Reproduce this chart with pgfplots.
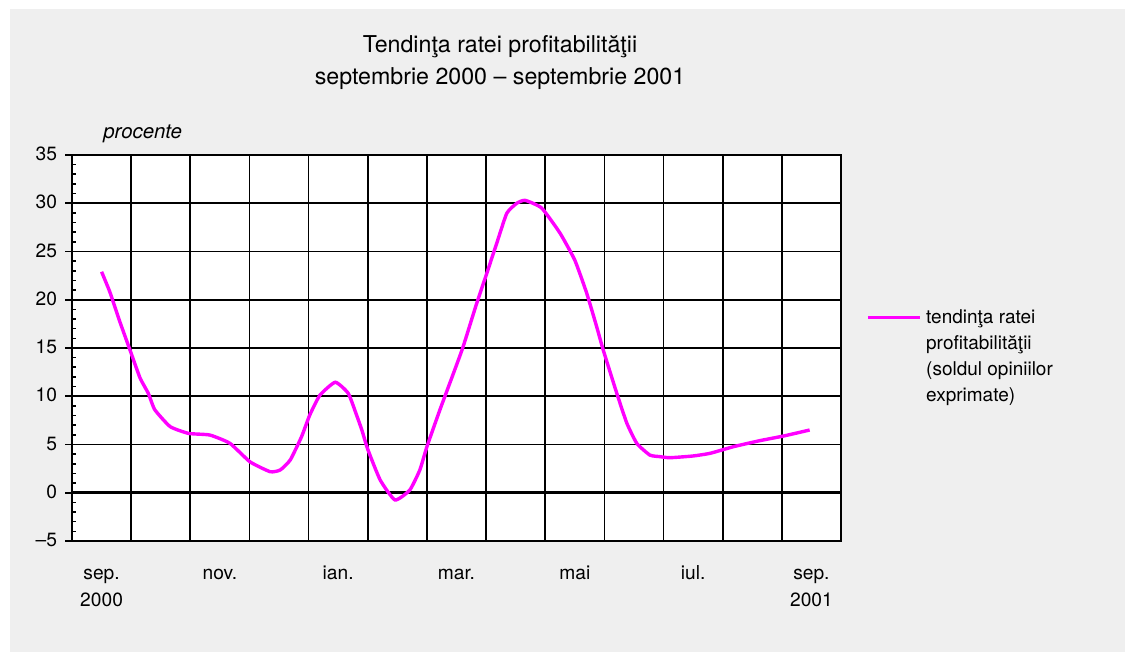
\documentclass[border=0pt]{standalone}
\usepackage{pgfplots}
\pgfplotsset{compat=1.18}
\usepackage{fontspec}
\setmainfont{TeX Gyre Heros}
\definecolor{panel}{RGB}{239,239,239}
\definecolor{trend}{RGB}{255,0,255}

\begin{document}
\begin{tikzpicture}
% background: white margin on the left and top, grey panel
\fill[white] (0pt,0pt) rectangle (562.5pt,326pt);
\fill[panel] (5pt,0pt) rectangle (562.5pt,321.5pt);
\node[anchor=base, font=\fontsize{11.6}{16}\selectfont] at (250pt,299.5pt) {Tendinţa ratei profitabilităţii};
\node[anchor=base, font=\fontsize{11.6}{16}\selectfont] at (250pt,283.5pt) {septembrie 2000 -- septembrie 2001};
\node[anchor=base west, inner sep=0pt, font=\fontsize{10.2}{12}\selectfont\itshape] at (51.5pt,256.5pt) {procente};

\begin{axis}[
    at={(36pt,55.5pt)}, anchor=south west,
    scale only axis, width=384.5pt, height=193pt,
    axis background/.style={fill=white},
    xmin=-0.5, xmax=12.5, ymin=-5, ymax=35,
    xtick={0,2,...,12},
    xticklabels={{sep.\\2000},nov.,ian.,mar.,mai,iul.,{sep.\\2001}},
    typeset ticklabels with strut,
    minor xtick={-0.5,0.5,...,12.5},
    xminorgrids=true,
    xtick style={draw=none},
    minor x tick style={draw=none},
    ytick={-5,0,...,35},
    yticklabels={–5,0,5,10,15,20,25,30,35},
    ytick pos=left,
    minor y tick num=4,
    ymajorgrids=true,
    grid style={black, line width=0.85pt},
    minor grid style={black, line width=0.85pt},
    axis line style={black, line width=0.9pt},
    tick style={black, line width=0.8pt},
    tick align=inside,
    major tick length=-3.5pt,
    minor tick length=2.2pt,
    ticklabel style={font=\fontsize{9.6}{14}\selectfont},
    yticklabel style={xshift=-4pt},
    xticklabel style={align=center, anchor=north, yshift=-6.5pt,
        font=\fontsize{9.6}{13.5}\selectfont},
    extra y ticks={0},
    extra y tick labels={},
    extra y tick style={grid style={black, line width=1.5pt}},
    extra x ticks={-0.5},
    extra x tick labels={},
    extra x tick style={grid style={black, line width=1.4pt}, tick style={draw=none}},
    legend style={at={(1.033,0.612)}, anchor=north west, draw=none, fill=none,
        inner sep=0pt, font=\fontsize{9.5}{13}\selectfont, cells={align=left}},
    legend image code/.code={\draw[#1] (0pt,19.5pt) -- (26pt,19.5pt); \path (0pt,-19.5pt);},
]
\addplot[trend, line width=1.7pt, smooth, tension=0.3] coordinates {
(0.00,22.9) (0.14,20.8) (0.31,17.7) (0.48,14.8) (0.65,11.9) (0.79,10.3)
(0.90,8.6) (1.16,6.85) (1.47,6.15) (1.83,5.98) (2.17,5.12) (2.51,3.2)
(2.85,2.18) (3.02,2.36) (3.19,3.4) (3.38,5.8) (3.52,8.06) (3.69,10.1)
(3.95,11.45) (4.17,10.3) (4.31,8.06) (4.40,6.5) (4.50,4.5) (4.71,1.32)
(4.96,-0.75) (5.21,0.28) (5.38,2.36) (5.50,4.77) (5.72,8.6) (5.95,12.4)
(6.11,15.1) (6.34,19.6) (6.51,22.7) (6.68,25.85) (6.85,28.96) (7.02,30.0)
(7.16,30.3) (7.44,29.5) (7.75,26.9) (8.00,24.1) (8.20,20.7) (8.37,17.2)
(8.48,14.8) (8.71,10.3) (8.88,7.2) (9.05,5.1) (9.27,3.9) (9.44,3.74)
(9.61,3.63) (10.0,3.81) (10.29,4.09) (10.68,4.77) (11.13,5.4) (11.53,5.88)
(11.97,6.5)
};
\addlegendentry{tendinţa ratei\\profitabilităţii\\(soldul opiniilor\\exprimate)}
\end{axis}
\end{tikzpicture}
\end{document}
